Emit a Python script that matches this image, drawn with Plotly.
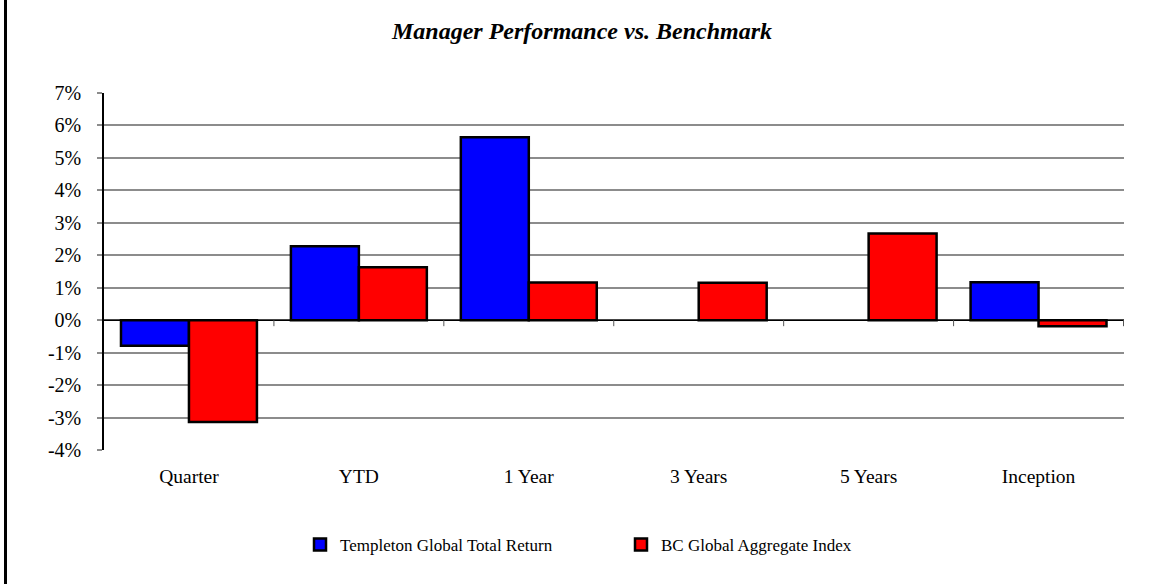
import plotly.graph_objects as go

# Periods and returns (%)
periods = ["Quarter", "YTD", "1 Year", "3 Years", "5 Years", "Inception"]
manager_returns = [-0.79, 2.28, 5.64, None, None, 1.17]
benchmark_returns = [-3.14, 1.63, 1.16, 1.15, 2.67, -0.19]
series_names = ["Templeton Global Total Return", "BC Global Aggregate Index"]
y_tick_values = [-4, -3, -2, -1, 0, 1, 2, 3, 4, 5, 6, 7]
y_tick_labels = ["-4%", "-3%", "-2%", "-1%", "0%", "1%", "2%", "3%", "4%", "5%", "6%", "7%"]

W, H = 1155, 584
ML, MR, MT, MB = 104, 31, 93, 134
PW, PH = W - ML - MR, H - MT - MB
SERIF = "Liberation Serif"

fig = go.Figure()
fig.add_trace(go.Bar(
    x=periods, y=manager_returns, name=series_names[0],
    marker=dict(color="#0000FF", line=dict(color="#000000", width=2.5)),
))
fig.add_trace(go.Bar(
    x=periods, y=benchmark_returns, name=series_names[1],
    marker=dict(color="#FF0000", line=dict(color="#000000", width=2.5)),
))

shapes = []
# zero baseline across the plot
shapes.append(dict(type="line", xref="paper", yref="y", x0=0, x1=1, y0=0, y1=0,
                   line=dict(color="#000000", width=1.5), layer="above"))
# tick marks at the category boundaries on the baseline
tick_depth = 6 / (PH / 11)
for i in range(1, len(periods) + 1):
    shapes.append(dict(type="line", xref="x", yref="y", x0=i - 0.5, x1=i - 0.5,
                       y0=0, y1=-tick_depth, line=dict(color="#555555", width=1)))
# left frame edge of the chart
shapes.append(dict(type="rect", xref="paper", yref="paper",
                   x0=(4 - ML) / PW, x1=(7 - ML) / PW,
                   y0=(PH + MT - H) / PH - 0.01, y1=(PH + MT) / PH + 0.01,
                   fillcolor="#000000", line=dict(width=0), layer="above"))

fig.update_layout(
    width=W, height=H,
    margin=dict(l=ML, r=MR, t=MT, b=MB),
    paper_bgcolor="#FFFFFF", plot_bgcolor="#FFFFFF",
    barmode="group", bargap=0.2, bargroupgap=0,
    title=dict(text="<b><i>Manager Performance vs. Benchmark</i></b>", x=582 / W, xref="container",
               xanchor="center", y=1 - 31 / H, yanchor="middle", yref="container",
               font=dict(family=SERIF, size=24, color="#000000")),
    font=dict(family=SERIF, color="#000000"),
    showlegend=True,
    legend=dict(orientation="h", x=(300 - ML) / PW, xanchor="left",
                y=(450 - 545) / PH, yanchor="middle",
                font=dict(family=SERIF, size=17, color="#000000"),
                entrywidth=276, entrywidthmode="pixels",
                bgcolor="rgba(0,0,0,0)", traceorder="normal"),
    shapes=shapes,
)
fig.update_xaxes(
    showgrid=False, showline=False, ticks="", zeroline=False,
    tickfont=dict(family=SERIF, size=19.5, color="#000000"),
    ticklabelstandoff=12,
)
fig.update_yaxes(
    range=[-4, 7], tickvals=y_tick_values, ticktext=y_tick_labels,
    showgrid=True, gridcolor="#8C8C8C", gridwidth=1.5,
    zeroline=False, showline=True, linecolor="#000000", linewidth=1.5,
    ticks="outside", ticklen=5, tickcolor="#8C8C8C", tickwidth=1.5,
    tickfont=dict(family=SERIF, size=20, color="#000000"),
    ticklabelstandoff=12,
)

fig.write_html("out.html")
